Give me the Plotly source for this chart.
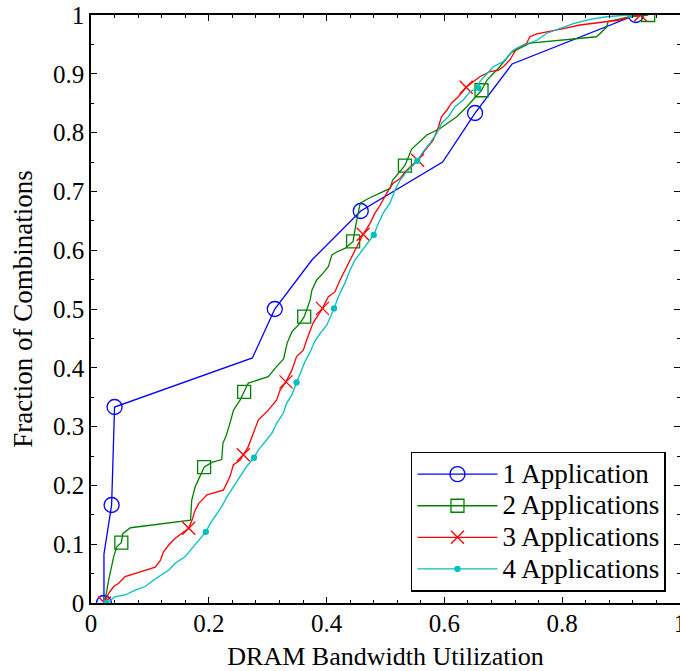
import plotly.graph_objects as go

# ---------------- data ----------------
names = ["1 Application", "2 Applications", "3 Applications", "4 Applications"]
colors = ["#0000FF", "#008000", "#FF0000", "#00BFBF"]

x1 = [0.022, 0.022, 0.035, 0.0375, 0.040, 0.274, 0.312, 0.375, 0.458, 0.597, 0.652, 0.715, 0.925]
y1 = [0.0, 0.0833, 0.1667, 0.25, 0.3333, 0.4167, 0.5, 0.5833, 0.6667, 0.75, 0.8333, 0.9167, 1.0]
m1 = [0, 2, 4, 6, 8, 10, 12]

x2 = [0.023, 0.030, 0.0385, 0.044, 0.0515, 0.054, 0.067, 0.169, 0.171, 0.174, 0.177, 0.182,
      0.192, 0.205, 0.222, 0.224, 0.229, 0.236, 0.242, 0.253, 0.260, 0.267, 0.301, 0.307,
      0.315, 0.327, 0.333, 0.341, 0.355, 0.362, 0.372, 0.375, 0.383, 0.394, 0.403, 0.409,
      0.417, 0.431, 0.445, 0.448, 0.457, 0.471, 0.5076, 0.512, 0.5246, 0.533, 0.5445, 0.570,
      0.5925, 0.621, 0.638, 0.6576, 0.663, 0.672, 0.694, 0.714, 0.745, 0.8585, 0.8755, 0.878,
      0.915, 0.946]
y2 = [0.0, 0.039, 0.079, 0.096, 0.1026, 0.118, 0.128, 0.141, 0.175, 0.187, 0.198, 0.209,
      0.231, 0.239, 0.244, 0.272, 0.283, 0.306, 0.328, 0.345, 0.359, 0.374, 0.385, 0.393,
      0.402, 0.415, 0.442, 0.461, 0.476, 0.487, 0.515, 0.532, 0.549, 0.561, 0.572, 0.592,
      0.597, 0.603, 0.615, 0.634, 0.680, 0.688, 0.705, 0.719, 0.7335, 0.744, 0.772, 0.796,
      0.807, 0.827, 0.844, 0.866, 0.872, 0.889, 0.912, 0.9365, 0.952, 0.963, 0.9795, 0.989,
      0.997, 1.0]
m2 = [4, 12, 20, 29, 38, 45, 52, 61]

x3 = [0.023, 0.030, 0.0385, 0.047, 0.058, 0.075, 0.092, 0.109, 0.118, 0.123, 0.132, 0.143,
      0.1545, 0.166, 0.1715, 0.177, 0.183, 0.197, 0.2247, 0.236, 0.2416, 0.253, 0.2586, 0.267,
      0.2756, 0.284, 0.301, 0.315, 0.321, 0.331, 0.341, 0.349, 0.3605, 0.366, 0.377, 0.393,
      0.403, 0.414, 0.4227, 0.431, 0.4397, 0.451, 0.462, 0.474, 0.482, 0.4907, 0.502, 0.513,
      0.5246, 0.536, 0.5545, 0.567, 0.581, 0.590, 0.595, 0.604, 0.612, 0.6236, 0.637, 0.660,
      0.677, 0.6915, 0.700, 0.711, 0.7227, 0.7397, 0.745, 0.757, 0.7793, 0.802, 0.830, 0.8586,
      0.898, 0.921, 0.933]
y3 = [0.0, 0.0165, 0.028, 0.0335, 0.045, 0.0505, 0.056, 0.061, 0.073, 0.087, 0.0986, 0.110,
      0.1185, 0.127, 0.141, 0.158, 0.1695, 0.184, 0.192, 0.215, 0.2347, 0.243, 0.252, 0.266,
      0.2886, 0.311, 0.328, 0.345, 0.362, 0.376, 0.396, 0.419, 0.430, 0.447, 0.476, 0.501,
      0.521, 0.529, 0.549, 0.566, 0.583, 0.606, 0.627, 0.646, 0.663, 0.676, 0.697, 0.714,
      0.722, 0.736, 0.753, 0.770, 0.787, 0.810, 0.827, 0.838, 0.850, 0.861, 0.877, 0.895,
      0.9036, 0.906, 0.912, 0.9235, 0.943, 0.952, 0.963, 0.968, 0.972, 0.977, 0.983, 0.987,
      0.9915, 0.998, 1.0]
m3 = [0, 13, 22, 29, 35, 42, 50, 58, 74]

x4 = [0.026, 0.030, 0.041, 0.058, 0.075, 0.092, 0.1065, 0.1205, 0.132, 0.143, 0.160, 0.1715,
      0.183, 0.195, 0.2026, 0.211, 0.222, 0.231, 0.2416, 0.253, 0.264, 0.2767, 0.284, 0.2954,
      0.307, 0.315, 0.3265, 0.332, 0.341, 0.349, 0.358, 0.363, 0.372, 0.380, 0.390, 0.400,
      0.4126, 0.420, 0.431, 0.4397, 0.448, 0.4567, 0.465, 0.480, 0.488, 0.496, 0.5076, 0.516,
      0.5246, 0.536, 0.554, 0.564, 0.5756, 0.587, 0.5954, 0.6066, 0.618, 0.632, 0.6435, 0.6576,
      0.660, 0.683, 0.700, 0.717, 0.734, 0.757, 0.774, 0.796, 0.819, 0.847, 0.8755, 0.9095, 0.916]
y4 = [0.0, 0.002, 0.0107, 0.0136, 0.022, 0.028, 0.039, 0.0476, 0.056, 0.0675, 0.079, 0.093,
      0.107, 0.121, 0.1355, 0.147, 0.164, 0.181, 0.198, 0.215, 0.232, 0.247, 0.260, 0.274,
      0.2886, 0.3056, 0.3226, 0.3396, 0.354, 0.375, 0.396, 0.410, 0.427, 0.445, 0.460, 0.472,
      0.501, 0.521, 0.544, 0.566, 0.583, 0.5947, 0.606, 0.626, 0.646, 0.663, 0.680, 0.702,
      0.719, 0.7335, 0.752, 0.7675, 0.782, 0.799, 0.816, 0.827, 0.844, 0.8555, 0.8696, 0.876,
      0.887, 0.912, 0.9206, 0.9405, 0.949, 0.957, 0.969, 0.977, 0.9855, 0.9926, 0.997, 1.0, 1.0]
m4 = [0, 13, 21, 29, 36, 43, 50, 59, 72]

x_ticks = [0, 0.2, 0.4, 0.6, 0.8, 1.0]
x_labels = ["0", "0.2", "0.4", "0.6", "0.8", "1"]
y_ticks = [0, 0.1, 0.2, 0.3, 0.4, 0.5, 0.6, 0.7, 0.8, 0.9, 1.0]
y_labels = ["0", "0.1", "0.2", "0.3", "0.4", "0.5", "0.6", "0.7", "0.8", "0.9", "1"]

# ---------------- styles ----------------
FONT = "Liberation Serif, Times New Roman, serif"
symbols = ["circle-open", "square-open", "x-thin-open", "circle"]
msizes = [15, 13, 13, 5]

series = [(x1, y1, m1), (x2, y2, m2), (x3, y3, m3), (x4, y4, m4)]

fig = go.Figure()
for i, (xs, ys, mk) in enumerate(series):
    c = colors[i]
    marker = dict(symbol=symbols[i], size=msizes[i], color=c,
                  line=dict(color=c, width=1.3))
    fig.add_trace(go.Scatter(x=xs, y=ys, mode="lines", line=dict(color=c, width=1.3),
                             showlegend=False, hoverinfo="skip"))
    fig.add_trace(go.Scatter(x=[xs[k] for k in mk], y=[ys[k] for k in mk], mode="markers",
                             marker=marker, showlegend=False, hoverinfo="skip"))
    # legend entry (line + marker)
    fig.add_trace(go.Scatter(x=[None], y=[None], mode="lines+markers",
                             name='<span style="font-size:27px">%s</span>' % names[i],
                             line=dict(color=c, width=1.3), marker=marker))

axis_common = dict(
    showgrid=False, zeroline=False, showline=True, linecolor="black", linewidth=1.5,
    mirror="allticks", ticks="inside", ticklen=6, tickwidth=1, tickcolor="black",
    tickfont=dict(family=FONT, size=25, color="black"), ticklabeloverflow="allow",
)

fig.update_xaxes(range=[0, 1], tickmode="array", tickvals=x_ticks, ticktext=x_labels,
                 minor=dict(dtick=0.04, ticklen=3, ticks="inside", tickcolor="black", tickwidth=1),
                 title=dict(text="DRAM Bandwidth Utilization", font=dict(family=FONT, size=26, color="black"),
                            standoff=11),
                 ticklabelstandoff=-3, **axis_common)
fig.update_yaxes(range=[0, 1], tickmode="array", tickvals=y_ticks, ticktext=y_labels,
                 minor=dict(dtick=0.05, ticklen=3, ticks="inside", tickcolor="black", tickwidth=1),
                 title=dict(text="Fraction of Combinations", font=dict(family=FONT, size=27, color="black"),
                            standoff=13),
                 ticklabelstandoff=0, **axis_common)

fig.update_layout(
    width=680, height=671,
    margin=dict(l=91, r=0, t=15, b=68, autoexpand=False),
    plot_bgcolor="white", paper_bgcolor="white",
    font=dict(family=FONT, size=25, color="black"),
    legend=dict(x=0.9762, xanchor="right", y=0.019, yanchor="bottom",
                bordercolor="black", borderwidth=1.5, bgcolor="white",
                font=dict(family=FONT, size=22, color="black"), itemwidth=80,
                tracegroupgap=0),
)

fig.write_html("out.html")
